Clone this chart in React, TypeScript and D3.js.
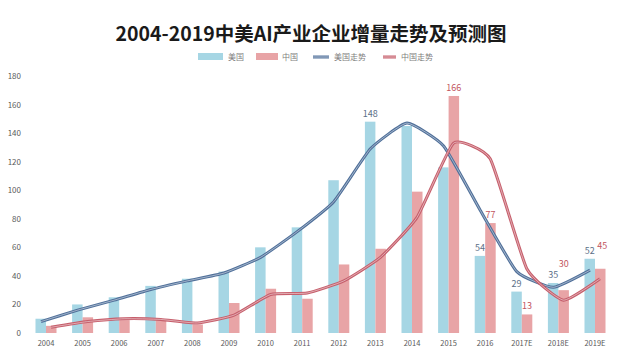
import React, { useEffect, useRef } from 'react';
import * as d3 from 'd3';

// categories and values
const years = ['2004', '2005', '2006', '2007', '2008', '2009', '2010', '2011', '2012', '2013', '2014', '2015', '2016', '2017E', '2018E', '2019E'];
const usValues = [10, 20, 25, 33, 38, 43, 60, 74, 107, 148, 145, 116, 54, 29, 35, 52];
const cnValues = [5, 11, 9, 9, 6, 21, 31, 24, 48, 59, 99, 166, 77, 13, 30, 45];
const usTrend = [8, 16, 23, 30.5, 36.5, 42, 53, 71, 92, 129, 147, 131, 86, 43, 32, 44];
const cnTrend = [4, 8, 10, 9.5, 7, 12.5, 27, 28, 36.5, 53, 81, 133, 122, 45, 23, 38];
const yTicks = [0, 20, 40, 60, 80, 100, 120, 140, 160, 180];
// which points carry a data label
const usLabelled = ['2013', '2016', '2017E', '2018E', '2019E'];
const cnLabelled = ['2015', '2016', '2017E', '2018E', '2019E'];

const colors = { us: '#a6d6e4', cn: '#e8a4a6', usLine: '#50709a', cnLine: '#c65f6c', usText: '#5c7088', cnText: '#c25560', axis: '#595959' };
const FONT = '"Noto Sans CJK SC", "Noto Sans", sans-serif';

function drawChart(node: SVGSVGElement) {
  const svg = d3.select(node);
  svg.selectAll('*').remove();

  const x = d3.scaleBand().domain(years).range([27.7, 613.3]).padding(0);
  const y = d3.scaleLinear().domain([0, 180]).range([333, 76]);
  const bw = 10.5;
  const cx = (d: string) => (x(d) as number) + x.bandwidth() / 2;

  // title
  svg.append('text')
    .attr('x', 311).attr('y', 41)
    .attr('text-anchor', 'middle')
    .style('font-family', FONT).style('font-size', '19.5px').style('font-weight', 'bold')
    .attr('fill', '#1a1a1a')
    .text('2004-2019中美AI产业企业增量走势及预测图');

  // legend
  const lg = svg.append('g').style('font-family', FONT).style('font-size', '8px').attr('fill', '#7f7f7f');
  lg.append('rect').attr('x', 198).attr('y', 53).attr('width', 25).attr('height', 7).attr('fill', colors.us);
  lg.append('text').attr('x', 228).attr('y', 60).text('美国');
  lg.append('rect').attr('x', 256).attr('y', 53).attr('width', 22).attr('height', 7).attr('fill', colors.cn);
  lg.append('text').attr('x', 282).attr('y', 60).text('中国');
  [[313, 329, colors.usLine, '美国走势'], [383, 396, colors.cnLine, '中国走势']].forEach(([a, b, c, t]) => {
    lg.append('line').attr('x1', a).attr('x2', b).attr('y1', 57).attr('y2', 57).attr('stroke', c as string).attr('stroke-width', 3);
    lg.append('line').attr('x1', a).attr('x2', b).attr('y1', 57).attr('y2', 57).attr('stroke', '#fff').attr('stroke-width', 0.8).attr('opacity', 0.7);
    lg.append('text').attr('x', (b as number) + 5).attr('y', 60).text(t as string);
  });

  // y axis labels (no axis line in the original)
  svg.append('g').selectAll('text').data(yTicks).join('text')
    .attr('x', 21).attr('y', d => y(d) + 3)
    .attr('text-anchor', 'end')
    .style('font-family', FONT).style('font-size', '8px')
    .attr('fill', colors.axis)
    .text(d => d);

  // x labels
  svg.append('g').selectAll('text').data(years).join('text')
    .attr('x', d => cx(d)).attr('y', 346)
    .attr('text-anchor', 'middle')
    .style('font-family', FONT).style('font-size', '7.5px')
    .attr('fill', colors.axis)
    .text(d => d);

  // bars
  svg.append('g').selectAll('rect').data(years).join('rect')
    .attr('x', d => cx(d) - bw).attr('width', bw)
    .attr('y', (d, i) => y(usValues[i])).attr('height', (d, i) => y(0) - y(usValues[i]))
    .attr('fill', colors.us);
  svg.append('g').selectAll('rect').data(years).join('rect')
    .attr('x', d => cx(d)).attr('width', bw)
    .attr('y', (d, i) => y(cnValues[i])).attr('height', (d, i) => y(0) - y(cnValues[i]))
    .attr('fill', colors.cn);

  // trend lines, drawn as a double line
  const trend = (vals: number[], off: number, c: string) => {
    const line = d3.line<number>()
      .x((d, i) => cx(years[i]) + off)
      .y(d => y(d))
      .curve(d3.curveCardinal.tension(0.55));
    svg.append('path').attr('d', line(vals)).attr('fill', 'none').attr('stroke', c).attr('stroke-width', 3);
    svg.append('path').attr('d', line(vals)).attr('fill', 'none').attr('stroke', '#fff').attr('stroke-width', 0.8).attr('opacity', 0.6);
  };
  trend(usTrend, -5, colors.usLine);
  trend(cnTrend, 5, colors.cnLine);

  // data labels
  const extra: Record<string, number> = { '2018E': 18, '2019E': 15 };
  usLabelled.forEach(k => {
    const i = years.indexOf(k);
    svg.append('text')
      .attr('x', cx(k) - bw / 2).attr('y', y(usValues[i]) - 5)
      .attr('text-anchor', 'middle')
      .style('font-family', FONT).style('font-size', '9px')
      .attr('fill', colors.usText).text(usValues[i]);
  });
  cnLabelled.forEach(k => {
    const i = years.indexOf(k);
    svg.append('text')
      .attr('x', cx(k) + bw / 2 + (k === '2019E' ? 2 : 0)).attr('y', y(cnValues[i]) - 5 - (extra[k] || 0))
      .attr('text-anchor', 'middle')
      .style('font-family', FONT).style('font-size', '9px')
      .attr('fill', colors.cnText).text(cnValues[i]);
  });
}

export default function App() {
  const ref = useRef<SVGSVGElement>(null);
  useEffect(() => {
    document.body.style.margin = '0';
    if (ref.current) drawChart(ref.current);
  }, []);
  return <svg ref={ref} width={620} height={358} style={{ display: 'block', background: '#fff' }} />;
}
